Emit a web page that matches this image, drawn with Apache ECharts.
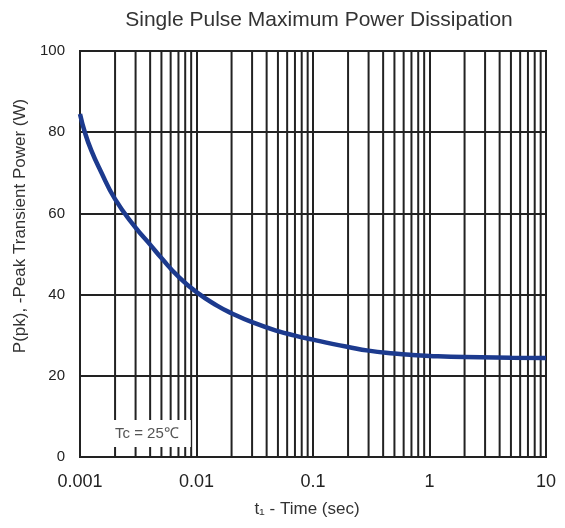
<!DOCTYPE html>
<html>
<head>
<meta charset="utf-8">
<script src="https://cdn.jsdelivr.net/npm/echarts@6/dist/echarts.min.js"></script>
<style>
html,body{margin:0;padding:0;background:#fff;}
#chart{width:565px;height:528px;}
</style>
</head>
<body>
<div id="chart"></div>
<script>
// Pulse duration t1 (sec)
const times = [0.001, 0.0011, 0.00125, 0.0015, 0.002, 0.003, 0.004, 0.005, 0.007, 0.01, 0.015, 0.02, 0.03, 0.05, 0.07, 0.1, 0.15, 0.2, 0.3, 0.5, 0.7, 1, 2, 5, 10];
// Peak transient power (W)
const power = [84.5, 80, 75.5, 70.5, 63.5, 56.5, 52.3, 49, 44.4, 40.6, 37.3, 35.4, 33.2, 31, 29.9, 28.9, 27.8, 27.1, 26.2, 25.5, 25.15, 24.9, 24.6, 24.45, 24.4];
// Log-grid minor lines (2..9 per decade)
const minorGrid = [
  0.002,0.003,0.004,0.005,0.006,0.007,0.008,0.009,
  0.02,0.03,0.04,0.05,0.06,0.07,0.08,0.09,
  0.2,0.3,0.4,0.5,0.6,0.7,0.8,0.9,
  2,3,4,5,6,7,8,9
];
const titleText = 'Single Pulse Maximum Power Dissipation';
const xName = 't\u2081 - Time (sec)';
const yName = 'P(pk), -Peak Transient Power (W)';
const noteText = 'Tc = 25\u2103';

const chart = echarts.init(document.getElementById('chart'));
const font = 'Liberation Sans, Arial, sans-serif';
const gridColor = '#222';
const Y_MIN = 0, Y_MAX = 100;
chart.setOption({
  animation: false,
  backgroundColor: '#fff',
  title: {
    text: titleText,
    left: 314, textAlign: 'center', top: 5,
    textStyle: {fontFamily: font, fontSize: 21, fontWeight: 'normal', color: '#333'}
  },
  grid: {left: 80, right: 19, top: 51, bottom: 71, show: true, borderColor: gridColor, borderWidth: 2, backgroundColor: 'transparent'},
  xAxis: {
    type: 'log', logBase: 10, min: 0.001, max: 10,
    name: xName, nameLocation: 'middle', nameGap: 44,
    nameTextStyle: {fontFamily: font, fontSize: 17, color: '#333', padding: [0, 12, 0, 0]},
    axisLine: {show: true, lineStyle: {color: gridColor, width: 2}},
    axisTick: {show: false},
    axisLabel: {fontFamily: font, fontSize: 18, color: '#222', margin: 16,
      formatter: v => String(Number(v.toPrecision(3)))},
    splitLine: {show: true, lineStyle: {color: gridColor, width: 2}}
  },
  yAxis: {
    type: 'value', min: Y_MIN, max: Y_MAX, interval: 20,
    name: yName, nameLocation: 'middle', nameGap: 50,
    nameTextStyle: {fontFamily: font, fontSize: 17, color: '#333', padding: [0, 0, 0, 56]},
    axisLine: {show: true, lineStyle: {color: gridColor, width: 2}},
    axisTick: {show: false},
    axisLabel: {fontFamily: font, fontSize: 15, color: '#222', margin: 15},
    splitLine: {show: true, lineStyle: {color: gridColor, width: 2}}
  },
  series: [
    {
      type: 'custom', z: 1, silent: true,
      data: minorGrid.map(v => [v]),
      encode: {x: 0},
      renderItem: (params, api) => {
        const v = api.value(0);
        const p1 = api.coord([v, Y_MIN]);
        const p2 = api.coord([v, Y_MAX]);
        return {
          type: 'line',
          shape: {x1: p1[0], y1: p1[1], x2: p2[0], y2: p2[1]},
          style: {stroke: gridColor, lineWidth: 2}
        };
      }
    },
    {
      type: 'line', z: 5, smooth: 0.5, showSymbol: false,
      data: times.map((t, i) => [t, power[i]]),
      lineStyle: {color: '#1c3a8e', width: 4.5},
      itemStyle: {color: '#1c3a8e'}
    }
  ],
  graphic: [{
    type: 'text', left: 97, top: 420, z: 100,
    style: {
      text: noteText, fill: '#555', font: '15px ' + font,
      backgroundColor: '#fff', padding: [6, 12, 6, 18]
    }
  }]
});
</script>
</body>
</html>
